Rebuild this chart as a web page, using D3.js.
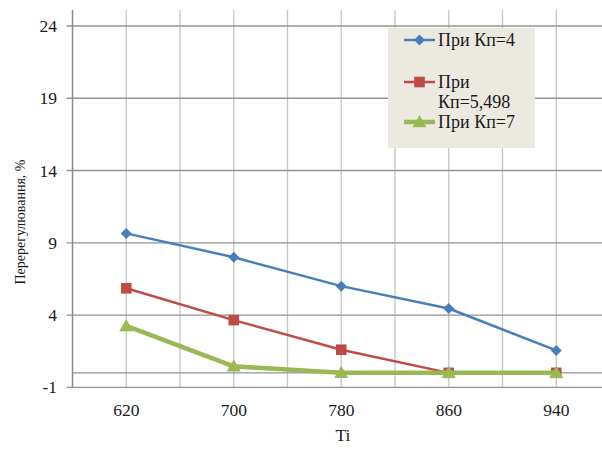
<!DOCTYPE html>
<html>
<head>
<meta charset="utf-8">
<script src="https://cdn.jsdelivr.net/npm/d3@7"></script>
<style>
  html, body { margin: 0; padding: 0; background: #fff; }
  svg { display: block; }
</style>
</head>
<body>
<svg id="chart" width="602" height="456"></svg>
<script>
// Overshoot (%) versus integration time Ti for three controller gains
const categories = ["620", "700", "780", "860", "940"];
const kp4 = [9.65, 8.0, 6.0, 4.45, 1.55];
const kp5498 = [5.85, 3.65, 1.6, 0, 0];
const kp7 = [3.25, 0.45, 0, 0, 0];
const yTicks = [-1, 4, 9, 14, 19, 24];

const seriesList = [
  { name: "При Кп=4", lines: ["При Кп=4"], values: kp4, color: "#4a7ebb", width: 2.5, marker: "diamond", r: 5.5 },
  { name: "При Кп=5,498", lines: ["При", "Кп=5,498"], values: kp5498, color: "#be4b48", width: 2.5, marker: "square", r: 5.3 },
  { name: "При Кп=7", lines: ["При Кп=7"], values: kp7, color: "#98b954", width: 4.5, marker: "triangle", r: 7 }
];

// marker outlines centred on the data point
function markerPath(type, r) {
  if (type === "diamond") return `M0,${-r}L${r},0L0,${r}L${-r},0Z`;
  if (type === "square") return `M${-r},${-r}H${r}V${r}H${-r}Z`;
  return `M0,${-r}L${r},${r * 0.75}L${-r},${r * 0.75}Z`;
}

const FONT = '"Liberation Serif"';
const textColor = "#1a1a1a";
const svg = d3.select("#chart");
const plot = { left: 72.5, top: 10, right: 602 };

const x = d3.scaleBand().domain(categories).range([plot.left, plot.left + 5 * 107.5]);
const cx = d => x(d) + x.bandwidth() / 2;
const y = d3.scaleLinear().domain([-1, 24]).range([387.3, 26]);

function label(sel, size) {
  return sel.style("font-family", FONT).style("font-size", size + "px").attr("fill", textColor);
}

// vertical gridlines at category centres and boundaries
const vLines = [];
categories.forEach(c => { vLines.push(x(c)); vLines.push(cx(c)); });
svg.append("g").selectAll("line").data(vLines.slice(1)).join("line")
  .attr("x1", d => d).attr("x2", d => d)
  .attr("y1", plot.top).attr("y2", y(-1))
  .attr("stroke", "#c6c6c6").attr("stroke-width", 1.3);

// horizontal gridlines with short ticks on the left
svg.append("g").selectAll("line").data(yTicks).join("line")
  .attr("x1", plot.left - 6).attr("x2", plot.right)
  .attr("y1", d => y(d)).attr("y2", d => y(d))
  .attr("stroke", "#939393").attr("stroke-width", 1.3);

// category axis line at zero
svg.append("line")
  .attr("x1", plot.left).attr("x2", plot.right)
  .attr("y1", y(0)).attr("y2", y(0))
  .attr("stroke", "#939393").attr("stroke-width", 1.3);

// value axis line
svg.append("line")
  .attr("x1", plot.left).attr("x2", plot.left)
  .attr("y1", plot.top).attr("y2", y(-1))
  .attr("stroke", "#8a8a8a").attr("stroke-width", 1.5);

// value tick labels
label(svg.append("g").selectAll("text").data(yTicks).join("text"), 17.5)
  .attr("x", 57).attr("y", d => y(d))
  .attr("dy", "0.35em")
  .attr("text-anchor", "end")
  .text(d => d);

// category tick labels
label(svg.append("g").selectAll("text").data(categories).join("text"), 17.5)
  .attr("x", d => cx(d)).attr("y", 416)
  .attr("text-anchor", "middle")
  .text(d => d);

// axis titles
label(svg.append("text"), 17.5)
  .attr("x", 343).attr("y", 441)
  .attr("text-anchor", "middle")
  .text("Ti");
label(svg.append("text"), 14)
  .attr("transform", "translate(25,222) rotate(-90)")
  .attr("text-anchor", "middle")
  .text("Перерегулювання, %");

// series lines and markers
const line = d3.line().x((d, i) => cx(categories[i])).y(d => y(d));
seriesList.forEach(s => {
  const g = svg.append("g");
  g.append("path")
    .attr("d", line(s.values))
    .attr("fill", "none")
    .attr("stroke", s.color)
    .attr("stroke-width", s.width)
    .attr("stroke-linejoin", "round");
  g.selectAll("path.m").data(s.values).join("path")
    .attr("class", "m")
    .attr("transform", (d, i) => `translate(${cx(categories[i])},${y(d)})`)
    .attr("d", markerPath(s.marker, s.r))
    .attr("fill", s.color);
});

// legend
const legend = svg.append("g");
legend.append("rect")
  .attr("x", 388).attr("y", 28).attr("width", 147).attr("height", 120)
  .attr("fill", "#eceae0");
const legendRows = [40, 82, 122];
seriesList.forEach((s, i) => {
  const ly = legendRows[i];
  legend.append("line")
    .attr("x1", 404).attr("x2", 435).attr("y1", ly).attr("y2", ly)
    .attr("stroke", s.color).attr("stroke-width", s.width);
  legend.append("path")
    .attr("transform", `translate(419.5,${ly})`)
    .attr("d", markerPath(s.marker, s.r))
    .attr("fill", s.color);
  s.lines.forEach((t, j) => {
    label(legend.append("text"), 18)
      .attr("x", 438).attr("y", ly + 6 + j * 20)
      .text(t);
  });
});
</script>
</body>
</html>
